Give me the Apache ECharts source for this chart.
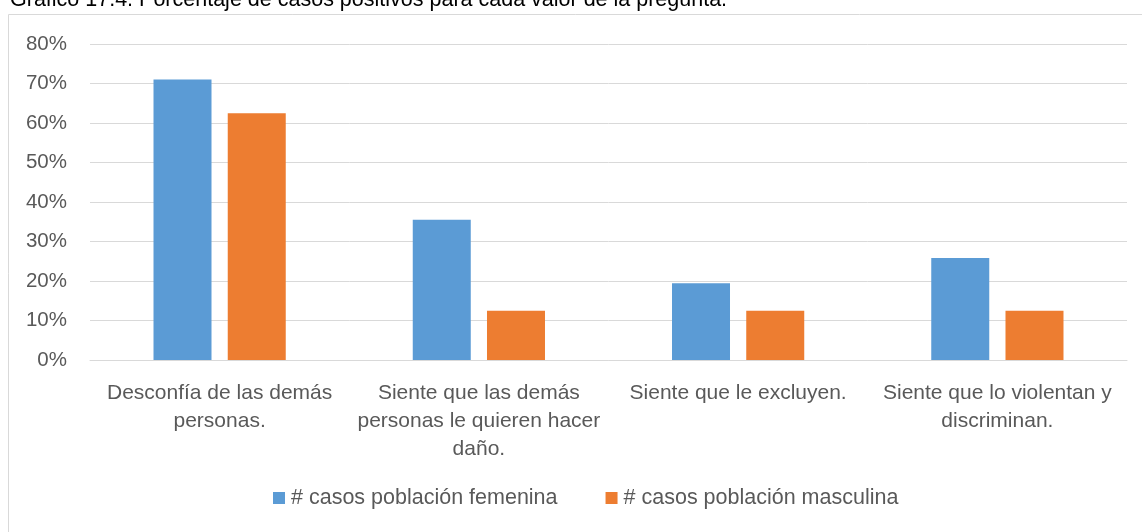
<!DOCTYPE html>
<html>
<head>
<meta charset="utf-8">
<script src="https://cdn.jsdelivr.net/npm/echarts@6/dist/echarts.min.js"></script>
<style>
  html, body { margin: 0; padding: 0; background: #fff; }
  #chart { width: 1142px; height: 532px; }
</style>
</head>
<body>
<div id="chart"></div>
<script>
// Chart data
const categories = [
    'Desconfía de las demás\npersonas.',
    'Siente que las demás\npersonas le quieren hacer\ndaño.',
    'Siente que le excluyen.',
    'Siente que lo violentan y\ndiscriminan.'
];
const femenina = [71.0, 35.5, 19.4, 25.8];
const masculina = [62.5, 12.5, 12.5, 12.5];
const seriesNames = ['# casos población femenina', '# casos población masculina'];
const titleText = 'Gráfico 17.4. Porcentaje de casos positivos para cada valor de la pregunta.';

const font = 'Liberation Sans';
const chart = echarts.init(document.getElementById('chart'));

const option = {
    animation: false,
    textStyle: { fontFamily: font },
    title: {
        text: titleText,
        left: 5,
        top: -16,
        textStyle: { fontFamily: font, fontSize: 21.5, fontWeight: 'normal', color: '#000' }
    },
    graphic: [{
        type: 'rect',
        shape: { x: 8.5, y: 14.5, width: 1200, height: 600 },
        style: { fill: 'none', stroke: '#d9d9d9', lineWidth: 1 },
        silent: true
    }],
    legend: {
        data: seriesNames,
        top: 487,
        left: 273,
        padding: 0,
        icon: 'rect',
        itemWidth: 12,
        itemHeight: 12,
        itemGap: 48,
        textStyle: { fontFamily: font, fontSize: 21.5, color: '#595959', padding: [0, 0, 0, 1] }
    },
    grid: {
        left: 90,
        right: 15,
        top: 44,
        bottom: 172
    },
    xAxis: {
        type: 'category',
        data: categories,
        axisLine: { lineStyle: { color: '#d9d9d9' } },
        axisTick: { show: false },
        axisLabel: {
            interval: 0,
            margin: 19,
            fontFamily: font,
            fontSize: 21,
            lineHeight: 28,
            color: '#595959'
        }
    },
    yAxis: {
        type: 'value',
        min: 0,
        max: 80,
        interval: 10,
        axisLine: { show: false },
        axisTick: { show: false },
        splitLine: { lineStyle: { color: '#d9d9d9' } },
        axisLabel: {
            formatter: '{value}%',
            margin: 23,
            fontFamily: font,
            fontSize: 20.5,
            color: '#595959'
        }
    },
    series: [
        {
            name: seriesNames[0],
            type: 'bar',
            data: femenina,
            barWidth: 58,
            barGap: '28%',
            itemStyle: { color: '#5b9bd5' }
        },
        {
            name: seriesNames[1],
            type: 'bar',
            data: masculina,
            barWidth: 58,
            itemStyle: { color: '#ed7d31' }
        }
    ]
};

chart.setOption(option);
</script>
</body>
</html>
